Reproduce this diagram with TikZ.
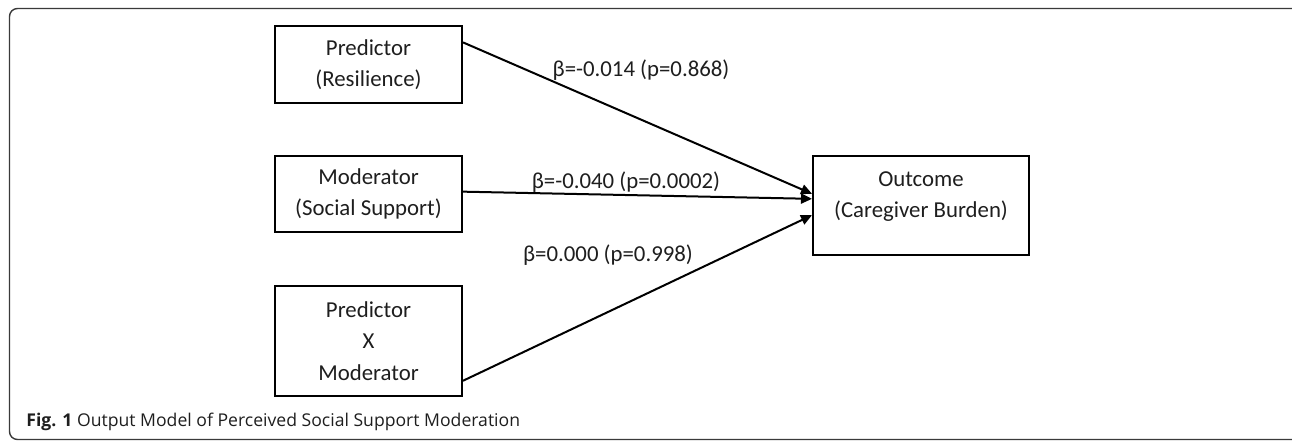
\documentclass[tikz,border=0pt]{standalone}
\usepackage{fontspec}
\setmainfont{Carlito}
\newfontfamily\capfont{Open Sans}
\usetikzlibrary{arrows.meta,calc}
\definecolor{ink}{HTML}{1E1E1E}
\definecolor{framec}{HTML}{3A3A3A}
\begin{document}
\begin{tikzpicture}[x=0.5pt,y=-0.5pt,
  varbox/.style={draw=black,line width=1pt,inner sep=0pt,align=center,
    font=\fontsize{11.4pt}{15.8pt}\selectfont,text=ink},
  coef/.style={inner sep=0pt,font=\fontsize{11.4pt}{13pt}\selectfont,text=ink},
  path/.style={draw=black,line width=1pt,-{Triangle[length=5.5pt,width=5pt]}}]
\useasboundingbox (0,0) rectangle (1292,440);
\draw[framec,line width=0.7pt,rounded corners=4pt] (9.5,8.5) rectangle (1300,439.5);
\node[varbox,minimum width=93.5pt,minimum height=38.5pt] (pred) at (368.5,64.5) {Predictor\\(Resilience)};
\node[varbox,minimum width=93.5pt,minimum height=38pt] (mod) at (368.5,194) {Moderator\\(Social Support)};
\node[varbox,minimum width=93.5pt,minimum height=55pt] (pxm) at (368.5,341) {Predictor\\X\\Moderator};
\node[varbox,minimum width=108pt,minimum height=49.5pt] (out) at (921,205.5) {};
\node[coef,align=center,font=\fontsize{11.4pt}{15.8pt}\selectfont] (outtext) at (921,196.5) {Outcome\\(Caregiver Burden)};
\draw[path] ($(pred.north east)!0.22!(pred.south east)$) -- ($(out.north west)!0.384!(out.south west)$);
\draw[path] ($(mod.north east)!0.47!(mod.south east)$) -- ($(out.north west)!0.434!(out.south west)$);
\draw[path] ($(pxm.north east)!0.855!(pxm.south east)$) -- ($(out.north west)!0.596!(out.south west)$);
\node[coef] (l1) at (641,70) {β=-0.014 (p=0.868)};
\node[coef] (l2) at (626,182) {β=-0.040 (p=0.0002)};
\node[coef] (l3) at (608,255) {β=0.000 (p=0.998)};
\node[anchor=west,inner sep=0pt,text=ink,font=\capfont\fontsize{8.8pt}{10pt}\selectfont] (cap) at (26,422) {\textbf{Fig. 1} Output Model of Perceived Social Support Moderation};
\end{tikzpicture}
\end{document}
